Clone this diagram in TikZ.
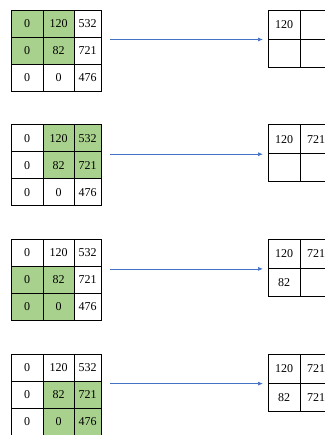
\documentclass[tikz,border=0pt]{standalone}
\usepackage{fontspec}
\setmainfont{Liberation Serif}
\usetikzlibrary{arrows.meta}
\definecolor{cellgreen}{RGB}{169,209,142}
\definecolor{arrowblue}{RGB}{68,114,196}
\tikzset{
  cellbox/.style={draw=black, line width=0.8pt, inner sep=0pt, outer sep=0pt,
    anchor=north west, font=\fontsize{12}{13}\selectfont},
  flowarrow/.style={draw=arrowblue, line width=0.7pt, -{Latex[length=5pt,width=4pt]}, shorten >=5pt}
}
\begin{document}
\begin{tikzpicture}[x=1pt,y=-1pt]
\useasboundingbox (0,0) rectangle (324,435);
\foreach \b/\ro/\co in {0/0/0,1/0/1,2/1/0,3/1/1} {
  \pgfmathsetmacro\tp{10+114.7*\b}
  % left grid
  \foreach \r in {0,1,2} {
    \foreach \c in {0,1,2} {
      \pgfmathsetmacro\xx{{11,43,74}[\c]}
      \pgfmathsetmacro\ww{{32,31,27}[\c]}
      \pgfmathsetmacro\yy{\tp+27*\r}
      \pgfmathparse{{"0","120","532","0","82","721","0","0","476"}[3*\r+\c]}
      \let\vv\pgfmathresult
      \pgfmathtruncatemacro\gr{(\r>=\ro)&&(\r<=\ro+1)&&(\c>=\co)&&(\c<=\co+1)}
      \ifnum\gr=1 \def\fc{cellgreen}\else\def\fc{white}\fi
      \node[cellbox, fill=\fc, minimum width=\ww pt, minimum height=27pt]
        (L\b-\r\c) at (\xx,\yy) {\vv};
    }
  }
  % right grid
  \foreach \r in {0,1} {
    \foreach \c in {0,1} {
      \pgfmathsetmacro\xx{{268,300}[\c]}
      \pgfmathsetmacro\yy{\tp+29*\r}
      \pgfmathsetmacro\hh{{29,28}[\r]}
      \pgfmathtruncatemacro\idx{2*\r+\c}
      \pgfmathtruncatemacro\shown{\idx<=\b}
      \ifnum\shown=1
        \pgfmathparse{{"120","721","82","721"}[\idx]}\let\vv\pgfmathresult
      \else\def\vv{}\fi
      \node[cellbox, minimum width=32pt, minimum height=\hh pt]
        (R\b-\r\c) at (\xx,\yy) {\vv};
    }
  }
  \coordinate (S\b) at (110,\tp+29.5);
  \draw[flowarrow] (S\b) -- (S\b -| R\b-10.north west);
}
\end{tikzpicture}
\end{document}
